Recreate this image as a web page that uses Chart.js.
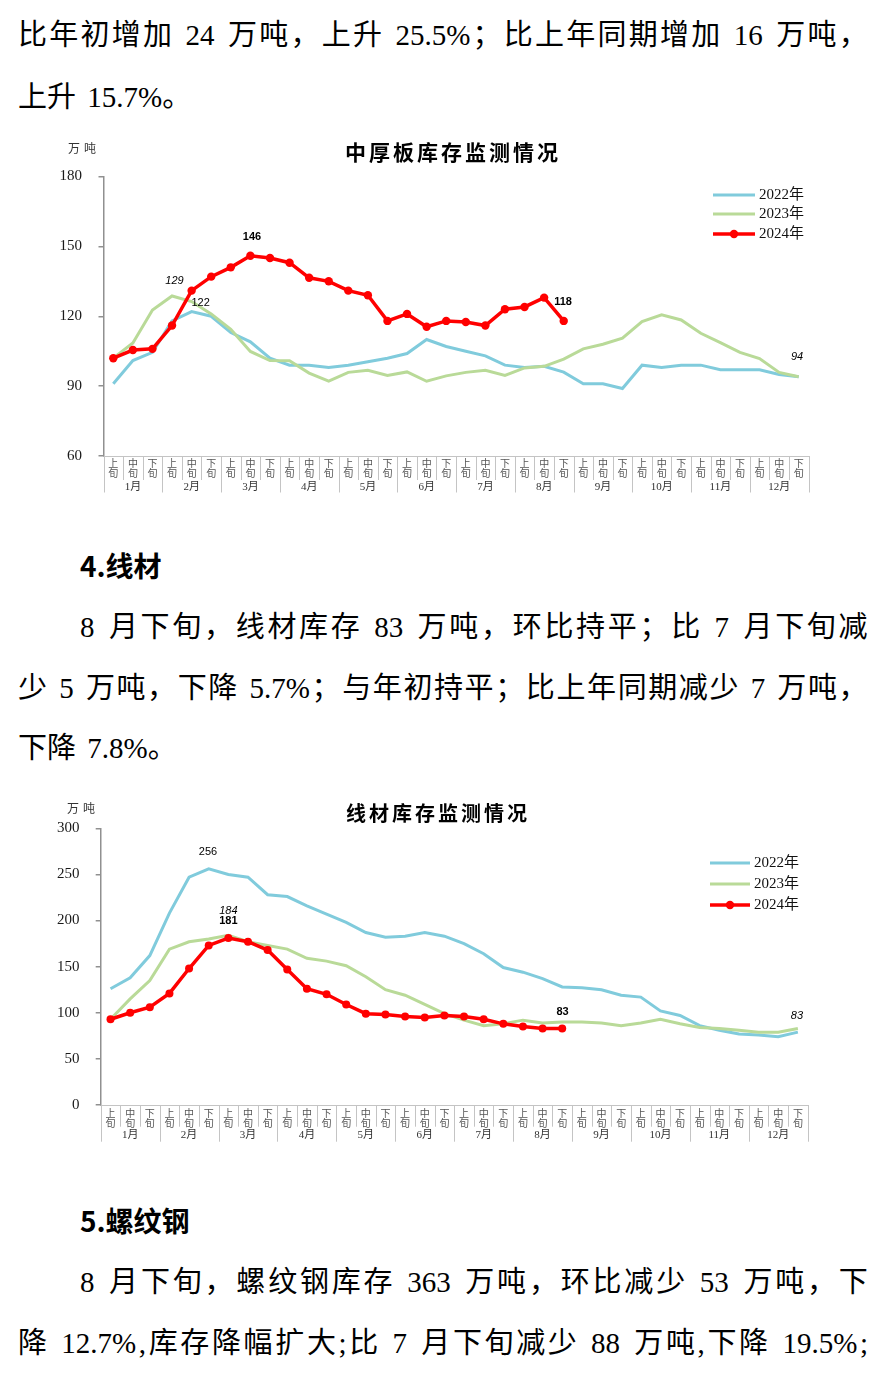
<!DOCTYPE html>
<html><head><meta charset="utf-8">
<script src="https://cdn.jsdelivr.net/npm/chart.js@4.4.1/dist/chart.umd.min.js"></script>
<style>
html,body{margin:0;padding:0;background:#fff;}
body{width:883px;height:1380px;position:relative;overflow:hidden;}
.t{position:absolute;left:18px;width:850px;height:40px;line-height:40px;font-size:29px;word-spacing:4px;font-family:"Liberation Serif","Noto Sans CJK SC";color:#000;white-space:pre;}
.j{display:flex;justify-content:space-between;align-items:baseline;word-spacing:0;}
.j span{display:inline-block;}
.j span.sp{width:9px;}
.ind{padding-left:62px;box-sizing:border-box;}
.h{position:absolute;left:80px;height:40px;line-height:40px;font-size:28px;font-family:"Noto Sans CJK SC";font-weight:700;color:#000;}
canvas{position:absolute;left:0;}
</style></head>
<body lang="zh-CN">
<div class="t j" style="top:15px">比年初增加 24 万吨，上升 25.5%；比上年同期增加 16 万吨，</div>
<div class="t" style="top:77px">上升 15.7%。</div>
<canvas id="c1" width="883" height="370" style="top:130px"></canvas>
<div class="h" style="top:545px">4.线材</div>
<div class="t j ind" style="top:607px">8 月下旬，线材库存 83 万吨，环比持平；比 7 月下旬减</div>
<div class="t j" style="top:668px">少 5 万吨，下降 5.7%；与年初持平；比上年同期减少 7 万吨，</div>
<div class="t" style="top:728px">下降 7.8%。</div>
<canvas id="c2" width="883" height="355" style="top:795px"></canvas>
<div class="h" style="top:1200px">5.螺纹钢</div>
<div class="t j ind" style="top:1262px">8 月下旬，螺纹钢库存 363 万吨，环比减少 53 万吨，下</div>
<div class="t j" style="top:1323px">降 12.7%,库存降幅扩大;比 7 月下旬减少 88 万吨,下降 19.5%;</div>
<script>
// justify lines character by character (CJK distribution like the source document)
document.querySelectorAll('.j').forEach(el => {
  const txt = el.textContent;
  const units = txt.match(/[A-Za-z0-9.%]+| |./gu) || [];
  el.textContent = '';
  units.forEach(u => {
    const s = document.createElement('span');
    if (u === ' ') { s.className = 'sp'; s.innerHTML = '&nbsp;'; }
    else s.textContent = u;
    el.appendChild(s);
  });
});

const monthLabels = ['1月','2月','3月','4月','5月','6月','7月','8月','9月','10月','11月','12月'];
const periodLabels = ['上旬','中旬','下旬'];
const categories = monthLabels.flatMap(m => periodLabels.map(p => m + p));
const seriesNames = ['2022年','2023年','2024年'];

// 中厚板库存 (万吨)
const plateTicks = [60, 90, 120, 150, 180];
const plate2022 = [91,101,104.5,118,122,120,113,109,102,99,99,98,99,100.5,102,104,110,107,105,103,99,98,98.5,96,91,91,89,99,98,99,99,97,97,97,95,94];
const plate2023 = [102,108.5,122.7,128.7,126.3,121,114.4,104.9,101,100.9,95.6,92.1,95.9,96.8,94.6,96.1,92.1,94.4,95.9,96.8,94.6,97.8,98.5,101.6,106,108,110.6,117.7,120.6,118.4,112.7,108.7,104.5,101.8,95.9,94];
const plate2024 = [102,105.5,106,116,131,137,141,146,145,143,136.5,135,131,129,118,121,115.5,118,117.5,116,123,124,128,118];

// 线材库存 (万吨)
const wireTicks = [0, 50, 100, 150, 200, 250, 300];
const wire2022 = [126,138,162,208,247,256,250,247,228,226,216,207,198,187,182,183,187,183,175,164,149,144,137,128,127,125,119,117,102,97,86,81,77,76,74,79];
const wire2023 = [93,115,135,169,177,180,184,177,173,169,159,156,151,139,125,119,109,99,92,86,88,92,89,90,90,89,86,89,93,88,84,83,81,79,79,83];
const wire2024 = [93,100,106,121,148,173,181,177,168,147,126,120,109,99,98,96,95,97,96,93,88,85,83,83];

const COLORS = ['#80cbdc', '#b9da98', '#ff0000'];

function decor(g) {
  return {
    id: 'decor',
    afterDraw(chart) {
      const ctx = chart.ctx, xs = chart.scales.x, ca = chart.chartArea;
      const n = categories.length;
      ctx.save();
      ctx.strokeStyle = '#c4c4c4'; ctx.lineWidth = 1;
      for (let i = 0; i <= n; i++) {
        let px;
        if (i === 0) px = xs.left; else if (i === n) px = xs.right;
        else px = (xs.getPixelForValue(i - 1) + xs.getPixelForValue(i)) / 2;
        const len = (i % 3 === 0) ? g.monthSep : g.innerSep;
        const xx = Math.round(px) + 0.5;
        ctx.beginPath(); ctx.moveTo(xx, ca.bottom); ctx.lineTo(xx, ca.bottom + len); ctx.stroke();
      }
      ctx.textAlign = 'center'; ctx.textBaseline = 'middle';
      // period tick labels (上/旬 stacked)
      ctx.fillStyle = '#555';
      ctx.font = '10px "Noto Sans CJK SC"';
      categories.forEach((c, i) => {
        const p = c.slice(-2), px = xs.getPixelForValue(i);
        ctx.fillText(p[0], px, ca.bottom + g.p1Y);
        ctx.fillText(p[1], px, ca.bottom + g.p2Y);
      });
      ctx.fillStyle = '#333';
      ctx.font = '11px "Liberation Serif","Noto Sans CJK SC"';
      monthLabels.forEach((m, k) => ctx.fillText(m, xs.getPixelForValue(3 * k + 1), ca.bottom + g.monthY));
      // title
      ctx.fillStyle = '#000';
      ctx.font = 'bold ' + g.titleSize + 'px "Noto Sans CJK SC"';
      ctx.letterSpacing = g.titleSpacing + 'px';
      ctx.fillText(g.title, g.titleX, g.titleY);
      // unit
      ctx.font = '12px "Noto Sans CJK SC"';
      ctx.letterSpacing = '4px';
      ctx.fillStyle = '#333';
      ctx.fillText('万吨', g.unitX, g.unitY);
      ctx.letterSpacing = '0px';
      // legend
      ctx.textAlign = 'left';
      ctx.font = '15px "Liberation Serif","Noto Sans CJK SC"';
      seriesNames.forEach((name, k) => {
        const y = g.legY[k];
        ctx.strokeStyle = COLORS[k]; ctx.lineWidth = k === 2 ? 3.5 : 3;
        ctx.beginPath(); ctx.moveTo(g.legX0, y); ctx.lineTo(g.legX1, y); ctx.stroke();
        if (k === 2) {
          ctx.fillStyle = COLORS[2];
          ctx.beginPath(); ctx.arc((g.legX0 + g.legX1) / 2, y, 4.2, 0, Math.PI * 2); ctx.fill();
        }
        ctx.fillStyle = '#111';
        ctx.fillText(name, g.legX1 + 4, y + 0.5);
      });
      // data labels
      ctx.textAlign = 'center';
      g.labels.forEach(l => {
        const meta = chart.getDatasetMeta(l.ds);
        const pt = meta.data[l.i];
        const v = chart.data.datasets[l.ds].data[l.i];
        ctx.font = (l.style === 'italic' ? 'italic ' : l.style === 'bold' ? 'bold ' : '') + '11px "Liberation Sans"';
        ctx.fillStyle = '#000';
        ctx.fillText(String(Math.round(v)), pt.x + l.dx, pt.y + l.dy);
      });
      ctx.restore();
    }
  };
}

function makeChart(id, d, g) {
  return new Chart(document.getElementById(id), {
    type: 'line',
    data: {
      labels: categories,
      datasets: [
        { label: seriesNames[0], data: d[0], borderColor: COLORS[0], borderWidth: 3, pointRadius: 0, tension: 0, order: 2 },
        { label: seriesNames[1], data: d[1], borderColor: COLORS[1], borderWidth: 3, pointRadius: 0, tension: 0, order: 1 },
        { label: seriesNames[2], data: d[2], borderColor: COLORS[2], backgroundColor: COLORS[2], borderWidth: 3.5,
          pointRadius: g.pr, pointBackgroundColor: COLORS[2], pointBorderWidth: 0, tension: 0, order: 0 }
      ]
    },
    options: {
      responsive: false, animation: false,
      layout: { padding: { left: 0, right: g.padRight, top: g.padTop, bottom: 0 } },
      plugins: { legend: { display: false }, tooltip: { enabled: false } },
      scales: {
        x: {
          type: 'category', offset: true,
          grid: { display: false },
          border: { display: true, color: '#c4c4c4', width: 1 },
          ticks: { display: false, autoSkip: false, maxRotation: 0, minRotation: 0 },
          afterFit: s => { s.height = g.xh; }
        },
        y: {
          min: g.ticks[0], max: g.ticks[g.ticks.length - 1],
          afterBuildTicks: s => { s.ticks = g.ticks.map(v => ({ value: v })); },
          grid: { display: true, drawOnChartArea: false, drawTicks: true, tickLength: 5, color: '#909090', lineWidth: 1.5 },
          border: { display: true, color: '#909090', width: 1.5 },
          ticks: { padding: g.yPad, font: { family: '"Liberation Serif"', size: 15 }, color: '#1a1a1a' },
          afterFit: s => { s.width = g.left; }
        }
      }
    },
    plugins: [decor(g)]
  });
}

makeChart('c1', [plate2022, plate2023, plate2024], {
  ticks: plateTicks, left: 103.5, padRight: 74.5, padTop: 46.5, xh: 44, yPad: 16.5, pr: 4.2,
  innerSep: 24, monthSep: 36.5, monthY: 30.7, p1Y: 7, p2Y: 16.8,
  title: '中厚板库存监测情况', titleSize: 21, titleSpacing: 3, titleX: 453, titleY: 22,
  unitX: 84, unitY: 18,
  legX0: 713, legX1: 755, legY: [65, 84, 104],
  labels: [
    { ds: 1, i: 3, dx: 2.5, dy: -15, style: 'italic' },
    { ds: 0, i: 4, dx: 9, dy: -8.6, style: 'normal' },
    { ds: 2, i: 7, dx: 1.6, dy: -18.7, style: 'bold' },
    { ds: 2, i: 23, dx: -0.7, dy: -19, style: 'bold' },
    { ds: 1, i: 35, dx: -1.7, dy: -20, style: 'italic' }
  ]
});

makeChart('c2', [wire2022, wire2023, wire2024], {
  ticks: wireTicks, left: 100.7, padRight: 75.3, padTop: 33.3, xh: 45, yPad: 16.2, pr: 4,
  innerSep: 21.7, monthSep: 36.7, monthY: 30, p1Y: 8, p2Y: 18,
  title: '线材库存监测情况', titleSize: 20, titleSpacing: 3, titleX: 438, titleY: 18,
  unitX: 83, unitY: 13,
  legX0: 710, legX1: 750, legY: [68, 89, 110],
  labels: [
    { ds: 0, i: 5, dx: -0.7, dy: -17, style: 'normal' },
    { ds: 1, i: 6, dx: 0, dy: -24.8, style: 'italic' },
    { ds: 2, i: 6, dx: 0, dy: -17, style: 'bold' },
    { ds: 2, i: 23, dx: 0.3, dy: -16.4, style: 'bold' },
    { ds: 1, i: 35, dx: -1, dy: -13, style: 'italic' }
  ]
});
</script>
</body></html>
